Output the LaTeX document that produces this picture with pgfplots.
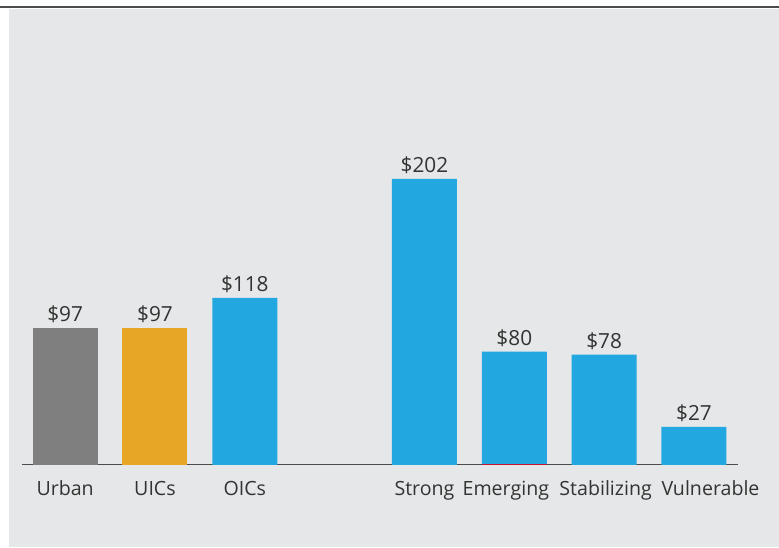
\documentclass[border=0pt]{standalone}
\usepackage{fontspec}
\setmainfont{Open Sans}
\usepackage{pgfplots}
\pgfplotsset{compat=1.18}
\definecolor{bggray}{HTML}{E6E7E8}
\definecolor{bargray}{HTML}{7F7F7F}
\definecolor{barorange}{HTML}{E8A626}
\definecolor{barblue}{HTML}{22A7E0}
\definecolor{stripe}{HTML}{C8102E}
\definecolor{txt}{HTML}{333333}
\newcommand{\lblfont}{\fontsize{19.6}{24}\selectfont}
\newcommand{\valfont}{\fontsize{20.8}{25}\selectfont}
\begin{document}
\begin{tikzpicture}[x=1pt,y=1pt]
\path[use as bounding box] (0,0) rectangle (779,548);
\fill[bggray] (9,1) rectangle (779,539);
\draw[black!70, line width=2pt] (0,540.5) -- (779,540.5);
\begin{axis}[
  at={(22pt,83pt)}, anchor=south west,
  scale only axis, width=716pt, height=424.8pt,
  xmin=-0.48, xmax=7.49, ymin=0, ymax=300,
  axis x line*=bottom, axis y line=none,
  axis line style={draw=black!70, line width=1pt},
  xtick={0,1,2,4,5,6,7},
  % the crowded right-hand labels are nudged sideways as in the source
  xticklabels={Urban,UICs,OICs,Strong,\hspace*{-17pt}Emerging,\hspace*{3pt}Stabilizing,\hspace*{33pt}Vulnerable},
  major tick length=0pt,
  xticklabel style={anchor=base, yshift=-31pt, font=\lblfont, text=txt},
  ybar, bar width=65pt,
  clip=false,
  every node near coord/.append style={font=\valfont, text=txt, anchor=base, yshift=6pt},
]
% urban
\addplot[fill=bargray, draw=none, bar shift=0pt,
  nodes near coords={\$\pgfmathprintnumber[assume math mode=true]{\pgfplotspointmeta}}]
  coordinates {(0,97)};
% UICs
\addplot[fill=barorange, draw=none, bar shift=0pt,
  nodes near coords={\$\pgfmathprintnumber[assume math mode=true]{\pgfplotspointmeta}}]
  coordinates {(1,97)};
% OICs and states
\addplot[fill=barblue, draw=none, bar shift=0pt,
  nodes near coords={\$\pgfmathprintnumber[assume math mode=true]{\pgfplotspointmeta}}]
  coordinates {(2,118) (4,202) (5,80) (6,78) (7,27)};
% thin red stripe at foot of Emerging
\addplot[fill=stripe, draw=none, bar shift=0pt] coordinates {(5,0.8)};
\end{axis}
\end{tikzpicture}
\end{document}
